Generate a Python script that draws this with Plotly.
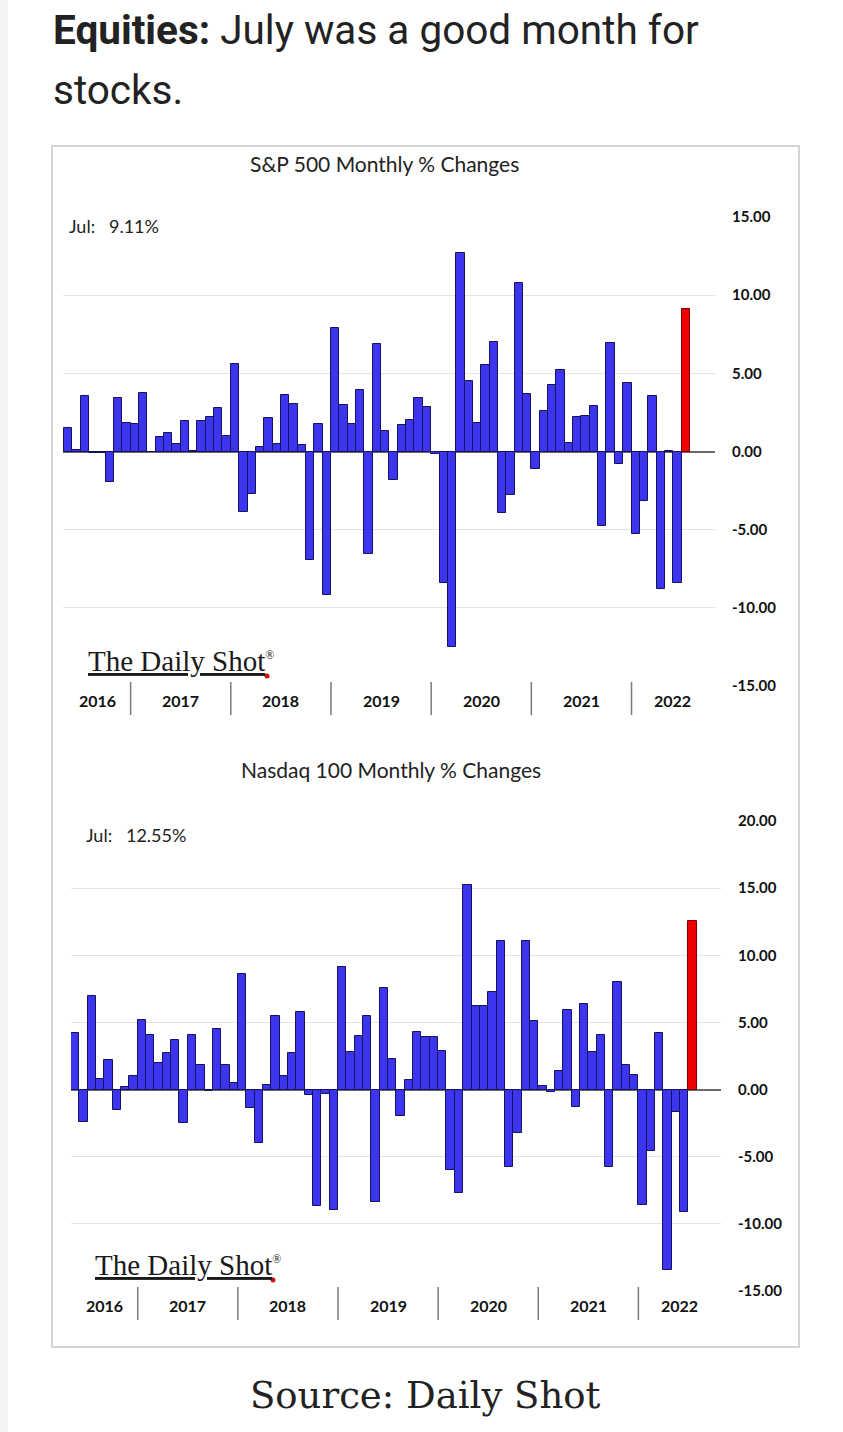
import plotly.graph_objects as go
import pandas as pd

W, H = 843, 1432

# ---------------- data ----------------
months = [p.strftime("%b %Y") for p in pd.period_range("2016-05", "2022-07", freq="M")]
years = ["2016", "2017", "2018", "2019", "2020", "2021", "2022"]

sp500 = [1.53, 0.09, 3.56, -0.12, -0.12, -1.94, 3.42, 1.82,
         1.79, 3.72, -0.04, 0.91, 1.16, 0.48, 1.93, 0.05, 1.93, 2.22, 2.81, 0.98,
         5.62, -3.89, -2.69, 0.27, 2.16, 0.48, 3.60, 3.03, 0.43, -6.94, 1.79, -9.18,
         7.87, 2.97, 1.79, 3.93, -6.58, 6.89, 1.31, -1.81, 1.72, 2.04, 3.40, 2.86,
         -0.16, -8.41, -12.51, 12.68, 4.53, 1.84, 5.51, 7.01, -3.92, -2.77, 10.75, 3.71,
         -1.11, 2.61, 4.24, 5.24, 0.55, 2.22, 2.27, 2.90, -4.76, 6.91, -0.83, 4.36,
         -5.26, -3.14, 3.58, -8.80, 0.01, -8.39, 9.11]

ndx = [4.2, -2.4, 7.0, 0.8, 2.2, -1.5, 0.2, 1.0,
       5.2, 4.1, 2.0, 2.7, 3.7, -2.5, 4.1, 1.8, -0.1, 4.5, 1.8, 0.5,
       8.6, -1.4, -4.0, 0.35, 5.5, 1.0, 2.7, 5.8, -0.4, -8.7, -0.3, -9.0,
       9.1, 2.8, 4.0, 5.5, -8.4, 7.6, 2.3, -2.0, 0.7, 4.3, 3.9, 3.9,
       2.9, -6.0, -7.7, 15.2, 6.2, 6.2, 7.3, 11.1, -5.8, -3.2, 11.1, 5.1,
       0.3, -0.15, 1.4, 5.9, -1.3, 6.35, 2.8, 4.1, -5.8, 8.0, 1.8, 1.1,
       -8.6, -4.6, 4.2, -13.45, -1.7, -9.1, 12.55]

sp_ticks = [15, 10, 5, 0, -5, -10, -15]
ndx_ticks = [20, 15, 10, 5, 0, -5, -10, -15]

# ---------------- helpers ----------------
def px(x):
    return x / W

def py(y):
    return 1 - y / H

BLUE = "#3d35ee"
BLUE_LINE = "#15125e"
RED = "#ee0000"
RED_LINE = "#7a0000"

idx = list(range(len(months)))
n = len(months)

def colors(vals):
    return [RED if i == len(vals) - 1 else BLUE for i in range(len(vals))]

def lcolors(vals):
    return [RED_LINE if i == len(vals) - 1 else BLUE_LINE for i in range(len(vals))]

fig = go.Figure()
fig.add_trace(go.Bar(x=idx, y=sp500, width=1, customdata=months,
                     marker=dict(color=colors(sp500), line=dict(color=lcolors(sp500), width=1)),
                     hovertemplate="%{customdata}: %{y:.2f}%<extra></extra>",
                     xaxis="x", yaxis="y", showlegend=False))
fig.add_trace(go.Bar(x=idx, y=ndx, width=1, customdata=months,
                     marker=dict(color=colors(ndx), line=dict(color=lcolors(ndx), width=1)),
                     hovertemplate="%{customdata}: %{y:.2f}%<extra></extra>",
                     xaxis="x2", yaxis="y2", showlegend=False))

tickfont = dict(family="Lato", size=15, color="#111", weight="bold")

def yaxis_cfg(ticks, rng, dom, anchor):
    return dict(domain=dom, range=rng, side="right", anchor=anchor,
                tickvals=ticks, ticktext=[f"{v:.2f}" for v in ticks],
                tickfont=tickfont, showgrid=True, gridcolor="#e4e4e4", gridwidth=1,
                zeroline=True, zerolinecolor="#6a6a6a", zerolinewidth=1.5,
                ticks="outside", ticklen=13, tickcolor="rgba(0,0,0,0)",
                showline=False, fixedrange=True, automargin=False)

def xaxis_cfg(dom, rng, anchor):
    return dict(domain=dom, range=rng, anchor=anchor, showgrid=False, zeroline=False,
                showticklabels=False, showline=False, ticks="", fixedrange=True,
                automargin=False)

fig.update_layout(
    width=W, height=H, margin=dict(l=0, r=0, t=0, b=0, pad=0, autoexpand=False),
    paper_bgcolor="white", plot_bgcolor="rgba(0,0,0,0)",
    bargap=0, showlegend=False,
    xaxis=xaxis_cfg([px(63), px(715)], [-0.6, n + 2.5], "y"),
    yaxis=yaxis_cfg(sp_ticks, [-15, 15], [py(686), py(217)], "x"),
    xaxis2=xaxis_cfg([px(71), px(721)], [-0.5, n + 2.4], "y2"),
    yaxis2=yaxis_cfg(ndx_ticks, [-15, 20], [py(1291), py(821)], "x2"),
)

shapes = []
annotations = []

def note(x, y, text, font, xanchor="center", xref="paper"):
    annotations.append(dict(xref=xref, yref="paper", x=x, y=y, text=text, showarrow=False,
                            xanchor=xanchor, yanchor="middle", font=font))

# left page strip
shapes.append(dict(type="rect", xref="paper", yref="paper", x0=0, x1=px(8), y0=0, y1=1,
                   fillcolor="#f3f3f3", line=dict(width=0), layer="below"))
# outer chart box
shapes.append(dict(type="rect", xref="paper", yref="paper", x0=px(52), x1=px(799),
                   y0=py(1347), y1=py(146), line=dict(color="#c8c8c8", width=1.5),
                   fillcolor="rgba(0,0,0,0)", layer="below"))

# covers for the top gridline behind the "Jul:" labels
shapes.append(dict(type="rect", xref="paper", yref="paper", x0=px(58), x1=px(183),
                   y0=py(220), y1=py(214), fillcolor="white", line=dict(width=0), layer="above"))
shapes.append(dict(type="rect", xref="paper", yref="paper", x0=px(66), x1=px(237),
                   y0=py(824), y1=py(818), fillcolor="white", line=dict(width=0), layer="above"))

# year dividers and labels
year_of = [m[-4:] for m in months]
yfont = dict(family="Lato", size=16, color="#111", weight="bold")
for xa, ytop, ybot, ylab in [("x", 682, 715, 700), ("x2", 1287, 1320, 1305)]:
    for k, yr in enumerate(years):
        pos = [i for i, y in enumerate(year_of) if y == yr]
        start = pos[0] - 0.5
        end = pos[-1] + 0.5 if yr != years[-1] else n + 2.3
        if k > 0:
            shapes.append(dict(type="line", xref=xa, yref="paper", x0=start, x1=start,
                               y0=py(ybot), y1=py(ytop), line=dict(color="#7a7a7a", width=1.5)))
        note((start + end) / 2, py(ylab), yr, yfont, xref=xa)

# chart titles
tfont = dict(family="Lato", size=21, color="#222")
note(px(384), py(163), "S&P 500 Monthly % Changes", tfont)
note(px(391), py(769), "Nasdaq 100 Monthly % Changes", tfont)

# latest value labels
lfont = dict(family="Lato", size=18, color="#222")
note(px(67), py(226), f"Jul:&nbsp;&nbsp;&nbsp;{sp500[-1]:.2f}%", lfont, xanchor="left")
note(px(84), py(835), f"Jul:&nbsp;&nbsp;&nbsp;{ndx[-1]:.2f}%", lfont, xanchor="left")

# The Daily Shot logos
logo_font = dict(family="Liberation Serif", size=29, color="#1a1a1a")
for lx, ly, dx, dy in [(86, 661, 267, 676), (93, 1265, 273, 1280)]:
    note(px(lx), py(ly), "<u>The Daily Shot</u><sup><span style='font-size:12px'>®</span></sup>",
         logo_font, xanchor="left")
    shapes.append(dict(type="circle", xref="paper", yref="paper",
                       x0=px(dx - 2.5), x1=px(dx + 2.5), y0=py(dy + 2.5), y1=py(dy - 2.5),
                       fillcolor="#d01010", line=dict(width=0)))

# page header
hfont = dict(family="Roboto", size=40.5, color="#222")
note(px(51), py(30), "<b>Equities:</b> July was a good month for", hfont, xanchor="left")
note(px(51), py(90), "stocks.", hfont, xanchor="left")

# source
note(px(425), py(1395), "Source: Daily Shot", dict(family="DejaVu Serif", size=37, color="#222"))

fig.update_layout(shapes=shapes, annotations=annotations)
fig.write_html("out.html")
